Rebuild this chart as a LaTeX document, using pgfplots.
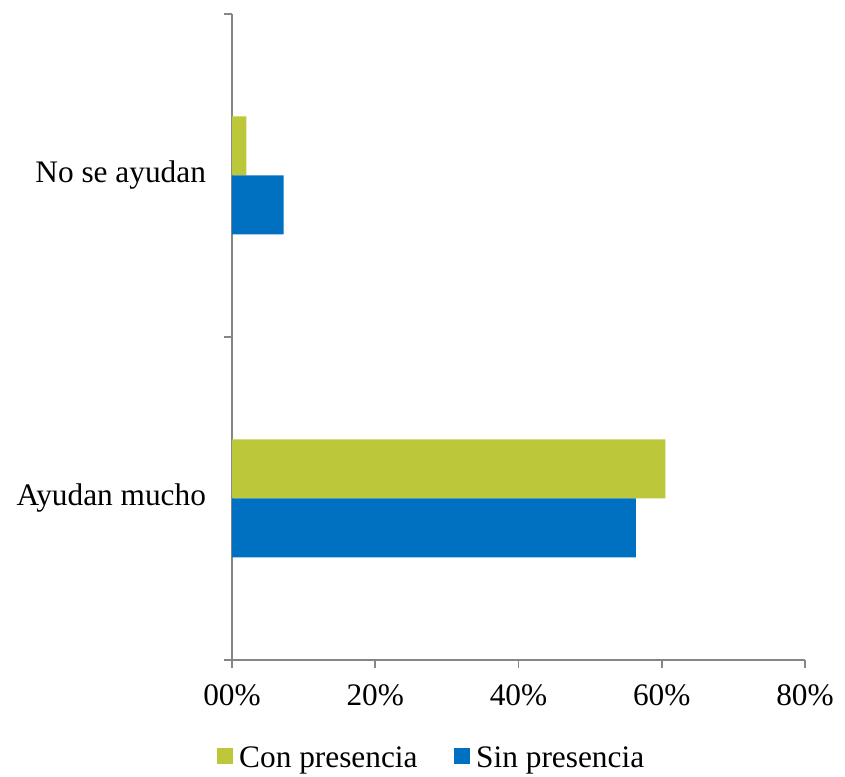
\documentclass[border=0pt]{standalone}
\usepackage{pgfplots}
\pgfplotsset{compat=1.18}
\usepackage{fontspec}
\setmainfont{Liberation Serif}
\definecolor{conp}{HTML}{BDC73A}
\definecolor{sinp}{HTML}{0070C0}
\definecolor{axgray}{HTML}{868686}
\begin{document}
\begin{tikzpicture}
\begin{axis}[
    scale only axis,
    width=429.75pt, height=484.5pt,
    xbar, bar width=44.25pt,
    xmin=0, xmax=80, ymin=-0.5, ymax=1.5,
    axis x line*=bottom, axis y line*=left,
    axis line style={axgray, line width=1.3pt, -},
    tick style={axgray, line width=1.3pt},
    tick align=outside, major tick length=6pt,
    xtick={0,20,40,60,80},
    xticklabels={00\%,20\%,40\%,60\%,80\%},
    ytick={-0.5,0.5,1.5}, yticklabels={},
    extra y ticks={0,1},
    extra y tick labels={Ayudan mucho,No se ayudan},
    extra y tick style={major tick length=0pt, yticklabel style={xshift=-16pt}},
    ticklabel style={font=\fontsize{23.5}{27}\selectfont, text=black},
    xticklabel style={yshift=-9pt},
    legend style={draw=none, at={(0.352,-0.125)}, anchor=north,
        font=\fontsize{23.5}{27}\selectfont, legend columns=2,
        /tikz/every even column/.append style={column sep=22pt}},
    legend image code/.code={\fill[#1] (0pt,-5pt) rectangle (12pt,7pt);},
    legend style={nodes={inner xsep=5pt}},
]
\addplot[fill=conp, draw=none, bar shift=22.125pt] coordinates {(60.5,0) (2.0,1)};
\addlegendentry{Con presencia}
\addplot[fill=sinp, draw=none, bar shift=-22.125pt] coordinates {(56.4,0) (7.2,1)};
\addlegendentry{Sin presencia}
\end{axis}
\pgfresetboundingbox
\path (current axis.south west) ++(-174pt,-87.75pt) coordinate (bl);
\path (current axis.north east) ++(30pt,10.5pt) coordinate (tr);
\path (bl) rectangle (tr);
\end{tikzpicture}
\end{document}
